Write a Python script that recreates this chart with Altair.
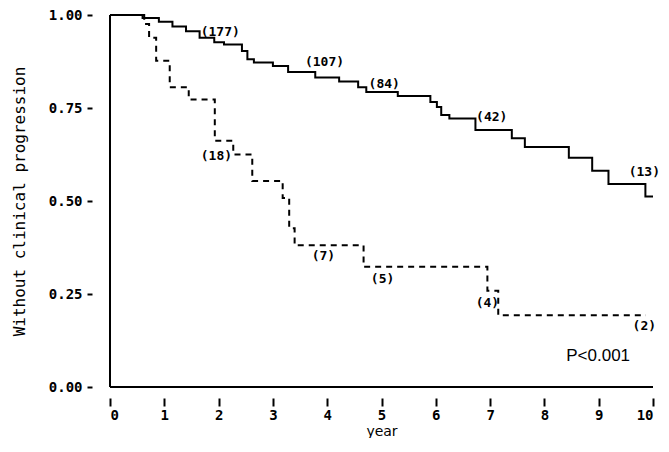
import altair as alt
import pandas as pd

# Solid curve (larger group): step times (years) and survival
solid_t = [0.0, 0.6, 0.9, 1.15, 1.4, 1.65, 1.92, 2.1, 2.43, 2.53, 2.65, 3.0, 3.28,
           3.78, 4.22, 4.57, 4.72, 5.3, 5.9, 6.02, 6.1, 6.25, 6.73, 7.4, 7.64,
           8.45, 8.88, 9.18, 9.86, 10.0]
solid_s = [1.0, 0.992, 0.982, 0.969, 0.956, 0.939, 0.927, 0.921, 0.903, 0.881, 0.872,
           0.863, 0.847, 0.832, 0.821, 0.806, 0.793, 0.782, 0.766, 0.753, 0.731,
           0.722, 0.691, 0.669, 0.645, 0.616, 0.581, 0.546, 0.512, 0.512]

# Dashed curve (smaller group)
dash_t = [0.0, 0.63, 0.72, 0.85, 1.1, 1.45, 1.93, 2.27, 2.62, 3.18, 3.3, 3.4,
          4.67, 6.95, 7.15, 9.87]
dash_s = [1.0, 0.976, 0.939, 0.877, 0.806, 0.773, 0.662, 0.625, 0.554, 0.508,
          0.427, 0.381, 0.323, 0.259, 0.193, 0.193]

# Numbers at risk annotations (data coordinates)
risk_labels = ["(177)", "(107)", "(84)", "(42)", "(13)",
               "(18)", "(7)", "(5)", "(4)", "(2)"]
risk_x = [2.03, 3.95, 5.05, 7.03, 9.84, 1.96, 3.93, 5.02, 6.95, 9.84]
risk_y = [0.955, 0.873, 0.815, 0.727, 0.577, 0.62, 0.352, 0.291, 0.227, 0.164]

p_label = ["P<0.001"]
p_x = [8.99]
p_y = [0.082]

x_ticks = [0, 1, 2, 3, 4, 5, 6, 7, 8, 9, 10]
y_ticks = [0.0, 0.25, 0.5, 0.75, 1.0]

solid_df = pd.DataFrame({"t": solid_t, "s": solid_s})
dash_df = pd.DataFrame({"t": dash_t, "s": dash_s})
risk_df = pd.DataFrame({"t": risk_x, "s": risk_y, "label": risk_labels})
p_df = pd.DataFrame({"t": p_x, "s": p_y, "label": p_label})
frame_v = pd.DataFrame({"t": [0.0], "s": [0.0], "s2": [1.0]})
frame_h = pd.DataFrame({"t": [0.0], "t2": [10.0], "s": [0.0]})

xscale = alt.Scale(domain=[0, 10], nice=False, zero=False)
yscale = alt.Scale(domain=[0, 1], nice=False, zero=False)

xaxis = alt.Axis(values=x_ticks, format="d", offset=11, tickSize=8, tickWidth=2,
                 labelPadding=2, domain=False, grid=False,
                 labelFont="DejaVu Sans Mono", labelFontWeight="bold", labelFontSize=14,
                 labelColor="black", tickColor="black",
                 title="year", titleFont="DejaVu Sans", titleFontWeight="normal",
                 titleFontSize=14, titleColor="black", titlePadding=2)
yaxis = alt.Axis(values=y_ticks, format=".2f", offset=18, tickSize=5, tickWidth=2,
                 labelPadding=5, domain=False, grid=False,
                 labelFont="DejaVu Sans Mono", labelFontWeight="bold", labelFontSize=14,
                 labelColor="black", tickColor="black",
                 title="Without clinical progression", titleFont="DejaVu Sans Mono",
                 titleFontWeight="normal", titleFontSize=16, titleColor="black",
                 titlePadding=21)

X = alt.X("t:Q", scale=xscale, axis=xaxis, title="year")
Y = alt.Y("s:Q", scale=yscale, axis=yaxis, title="Without clinical progression")

solid = alt.Chart(solid_df).mark_line(
    interpolate="step-after", color="black", strokeWidth=2
).encode(x=X, y=Y)

dashed = alt.Chart(dash_df).mark_line(
    interpolate="step-after", color="black", strokeWidth=2, strokeDash=[6, 5]
).encode(x=X, y=Y)

vline = alt.Chart(frame_v).mark_rule(color="black", strokeWidth=2).encode(
    x=X, y=Y, y2="s2:Q")
hline = alt.Chart(frame_h).mark_rule(color="black", strokeWidth=2).encode(
    x=X, x2="t2:Q", y=Y)

risk = alt.Chart(risk_df).mark_text(
    font="DejaVu Sans Mono", fontWeight="bold", fontSize=13, color="black",
    align="center", baseline="middle"
).encode(x=X, y=Y, text="label:N")

ptext = alt.Chart(p_df).mark_text(
    font="Liberation Sans", fontSize=17, color="black",
    align="center", baseline="middle"
).encode(x=X, y=Y, text="label:N")

chart = alt.layer(solid, dashed, vline, hline, risk, ptext).properties(
    width=543, height=372,
    autosize=alt.AutoSizeParams(type="none"),
    padding={"left": 102, "top": 7, "right": 8, "bottom": 51},
    background="white",
).configure_view(stroke=None)

chart.save("out.html", embed_options={"renderer": "svg", "actions": False})
